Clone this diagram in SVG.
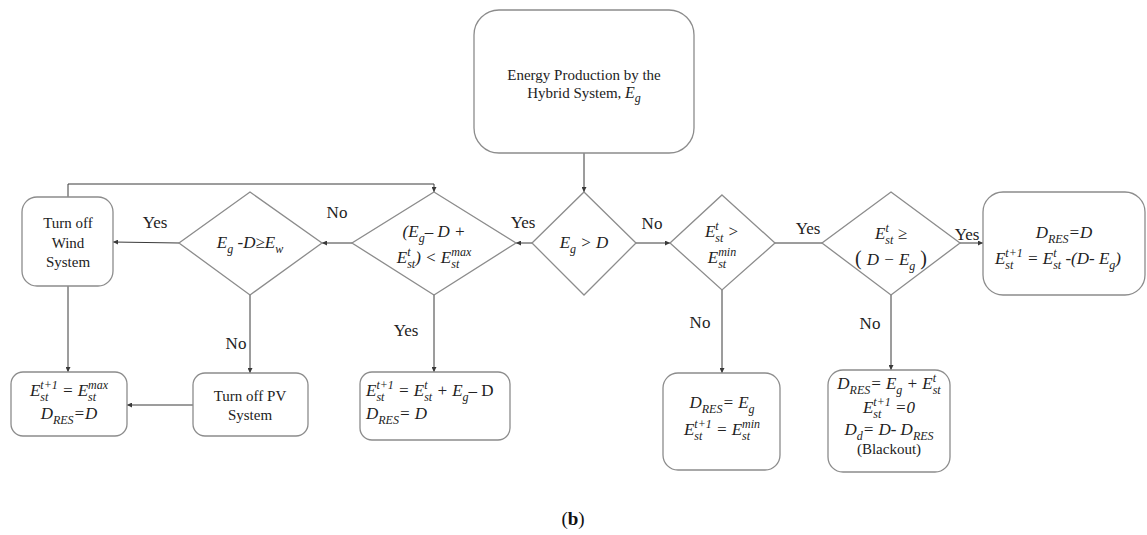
<svg xmlns="http://www.w3.org/2000/svg" width="1147" height="535" viewBox="0 0 1147 535">
<defs>
<style>
.box{fill:#fff;stroke:#8c8c8c;stroke-width:1.3}
.dia{fill:#fff;stroke:#8c8c8c;stroke-width:1.3}
.con{fill:none;stroke:#3a3a3a;stroke-width:1}
.t{font-family:"Liberation Serif",serif;font-size:15px;fill:#222;text-anchor:middle}
.lbl{font-family:"Liberation Serif",serif;font-size:17px;fill:#222;text-anchor:middle}
.m{font-family:"Liberation Serif",serif;font-style:italic;font-size:17px;fill:#222;text-anchor:middle}
.ms{font-family:"Liberation Serif",serif;font-style:italic;font-size:17px;fill:#222;text-anchor:start}
.s{font-size:12px}
.up{font-style:normal}
</style>
<marker id="ah" viewBox="0 0 6 6" refX="6" refY="3" markerWidth="5" markerHeight="5" markerUnits="userSpaceOnUse" orient="auto">
<path d="M0,0 L6,3 L0,6 z" fill="#3a3a3a"/>
</marker>
</defs>
<rect width="1147" height="535" fill="#fff"/>

<g id="connectors">
<line class="con" x1="584" y1="153" x2="584" y2="192" marker-end="url(#ah)"/>
<line class="con" x1="532" y1="243" x2="516" y2="243" marker-end="url(#ah)"/>
<line class="con" x1="352" y1="243" x2="322" y2="243" marker-end="url(#ah)"/>
<line class="con" x1="179" y1="243" x2="113" y2="242" marker-end="url(#ah)"/>
<polyline class="con" points="68,197 68,184 434,184 434,192" marker-end="url(#ah)"/>
<line class="con" x1="68" y1="286" x2="68" y2="372" marker-end="url(#ah)"/>
<line class="con" x1="250" y1="295" x2="250" y2="373" marker-end="url(#ah)"/>
<line class="con" x1="193" y1="405" x2="127" y2="405" marker-end="url(#ah)"/>
<line class="con" x1="434" y1="295" x2="434" y2="372" marker-end="url(#ah)"/>
<line class="con" x1="636" y1="243" x2="670" y2="243" marker-end="url(#ah)"/>
<line class="con" x1="775" y1="243" x2="822" y2="243"/>
<line class="con" x1="960" y1="243" x2="983" y2="243" marker-end="url(#ah)"/>
<line class="con" x1="722" y1="290" x2="722" y2="373" marker-end="url(#ah)"/>
<line class="con" x1="891" y1="295" x2="891" y2="370" marker-end="url(#ah)"/>
<text class="lbl" x="523" y="228">Yes</text>
<text class="lbl" x="337" y="218">No</text>
<text class="lbl" x="155" y="228">Yes</text>
<text class="lbl" x="236" y="349">No</text>
<text class="lbl" x="406" y="336">Yes</text>
<text class="lbl" x="652" y="229">No</text>
<text class="lbl" x="808" y="234">Yes</text>
<text class="lbl" x="967" y="240">Yes</text>
<text class="lbl" x="700" y="328">No</text>
<text class="lbl" x="870" y="329">No</text>
</g>

<g id="start">
<rect class="box" x="474" y="10" width="220" height="143" rx="25"/>
<text class="t" x="584" y="80">Energy Production by the</text>
<text class="t" x="584" y="98">Hybrid System, <tspan font-style="italic" font-size="16">E</tspan><tspan class="s" font-style="italic" font-size="11" dy="4">g</tspan></text>
</g>

<g id="d-eg-gt-d">
<polygon class="dia" points="584,192 636,243 584,295 532,243"/>
<text class="m" x="584" y="248">E<tspan class="s" dy="5">g</tspan><tspan dy="-5"> &gt; D</tspan></text>
</g>

<g id="d-storage-max">
<polygon class="dia" points="434,192 516,243 434,295 352,243"/>
<text class="m" x="434" y="237">(E<tspan class="s" dy="5">g</tspan><tspan dy="-5">– D +</tspan></text>
<text class="m" x="434" y="263">E<tspan class="s" dy="5">st</tspan><tspan class="s" dx="-8" dy="-12">t</tspan><tspan dx="4.7" dy="7">) &lt; E</tspan><tspan class="s" dy="5">st</tspan><tspan class="s" dx="-8" dy="-12">max</tspan></text>
</g>

<g id="d-excess-wind">
<polygon class="dia" points="250,192 322,243 250,295 179,243"/>
<text class="m" x="250" y="248">E<tspan class="s" dy="5">g</tspan><tspan dy="-5"> -D≥E</tspan><tspan class="s" dy="5">w</tspan></text>
</g>

<g id="wind-off">
<rect class="box" x="22" y="197" width="91" height="89" rx="15"/>
<text class="t" x="68" y="228">Turn off</text>
<text class="t" x="68" y="248">Wind</text>
<text class="t" x="68" y="267">System</text>
</g>

<g id="store-max">
<rect class="box" x="11" y="372" width="116" height="64" rx="12"/>
<text class="m" x="69" y="396">E<tspan class="s" dy="5">st</tspan><tspan class="s" dx="-8" dy="-12">t+1</tspan><tspan dy="7"> = E</tspan><tspan class="s" dy="5">st</tspan><tspan class="s" dx="-8" dy="-12">max</tspan></text>
<text class="m" x="69" y="419">D<tspan class="s" dy="5">RES</tspan><tspan dy="-5">=D</tspan></text>
</g>

<g id="pv-off">
<rect class="box" x="193" y="373" width="115" height="63" rx="12"/>
<text class="t" x="250" y="401">Turn off PV</text>
<text class="t" x="250" y="420">System</text>
</g>

<g id="charge">
<rect class="box" x="360" y="372" width="150" height="68" rx="12"/>
<text class="ms" x="366" y="396">E<tspan class="s" dy="5">st</tspan><tspan class="s" dx="-8" dy="-12">t+1</tspan><tspan dy="7"> = E</tspan><tspan class="s" dy="5">st</tspan><tspan class="s" dx="-8" dy="-12">t</tspan><tspan dx="4.7" dy="7">  + E</tspan><tspan class="s" dy="5">g</tspan><tspan dy="-5">– </tspan><tspan class="up">D</tspan></text>
<text class="ms" x="366" y="419">D<tspan class="s" dy="5">RES</tspan><tspan dy="-5">= D</tspan></text>
</g>

<g id="d-storage-min">
<polygon class="dia" points="722,195 775,243 722,290 670,243"/>
<text class="m" x="722" y="237">E<tspan class="s" dy="5">st</tspan><tspan class="s" dx="-8" dy="-12">t</tspan><tspan dx="4.7" dy="7"> &gt;</tspan></text>
<text class="m" x="722" y="263">E<tspan class="s" dy="5">st</tspan><tspan class="s" dx="-8" dy="-12">min</tspan></text>
</g>

<g id="d-storage-deficit">
<polygon class="dia" points="891,192 960,243 891,295 822,243"/>
<text class="m" x="891" y="239">E<tspan class="s" dy="5">st</tspan><tspan class="s" dx="-8" dy="-12">t</tspan><tspan dx="4.7" dy="7"> ≥</tspan></text>
<text class="m" x="891" y="265"><tspan class="up" font-size="20">( </tspan>D − E<tspan class="s" dy="5">g</tspan><tspan class="up" font-size="20" dy="-5"> )</tspan></text>
</g>

<g id="discharge">
<rect class="box" x="983" y="192" width="162" height="103" rx="20"/>
<text class="m" x="1064" y="238">D<tspan class="s" dy="5">RES</tspan><tspan dy="-5">=D</tspan></text>
<text class="m" x="1058" y="264">E<tspan class="s" dy="5">st</tspan><tspan class="s" dx="-8" dy="-12">t+1</tspan><tspan dy="7"> = E</tspan><tspan class="s" dy="5">st</tspan><tspan class="s" dx="-8" dy="-12">t</tspan><tspan dx="4.7" dy="7"> -(D- E</tspan><tspan class="s" dy="5">g</tspan><tspan dy="-5">)</tspan></text>
</g>

<g id="store-min">
<rect class="box" x="663" y="373" width="117" height="97" rx="15"/>
<text class="m" x="722" y="408">D<tspan class="s" dy="5">RES</tspan><tspan dy="-5">= E</tspan><tspan class="s" dy="5">g</tspan></text>
<text class="m" x="722" y="435">E<tspan class="s" dy="5">st</tspan><tspan class="s" dx="-8" dy="-12">t+1</tspan><tspan dy="7"> = E</tspan><tspan class="s" dy="5">st</tspan><tspan class="s" dx="-8" dy="-12">min</tspan></text>
</g>

<g id="blackout">
<rect class="box" x="828" y="370" width="122" height="102" rx="15"/>
<text class="m" x="889" y="389">D<tspan class="s" dy="5">RES</tspan><tspan dy="-5">= E</tspan><tspan class="s" dy="5">g</tspan><tspan dy="-5"> + E</tspan><tspan class="s" dy="5">st</tspan><tspan class="s" dx="-8" dy="-12">t</tspan></text>
<text class="m" x="889" y="413">E<tspan class="s" dy="5">st</tspan><tspan class="s" dx="-8" dy="-12">t+1</tspan><tspan dy="7"> =0</tspan></text>
<text class="m" x="889" y="435">D<tspan class="s" dy="5">d</tspan><tspan dy="-5">= D- D</tspan><tspan class="s" dy="5">RES</tspan></text>
<text class="t" x="889" y="454" font-size="16">(Blackout)</text>
</g>

<text x="573" y="525" font-family="Liberation Serif, serif" font-size="19" fill="#111" text-anchor="middle">(<tspan font-weight="bold">b</tspan>)</text>
</svg>
